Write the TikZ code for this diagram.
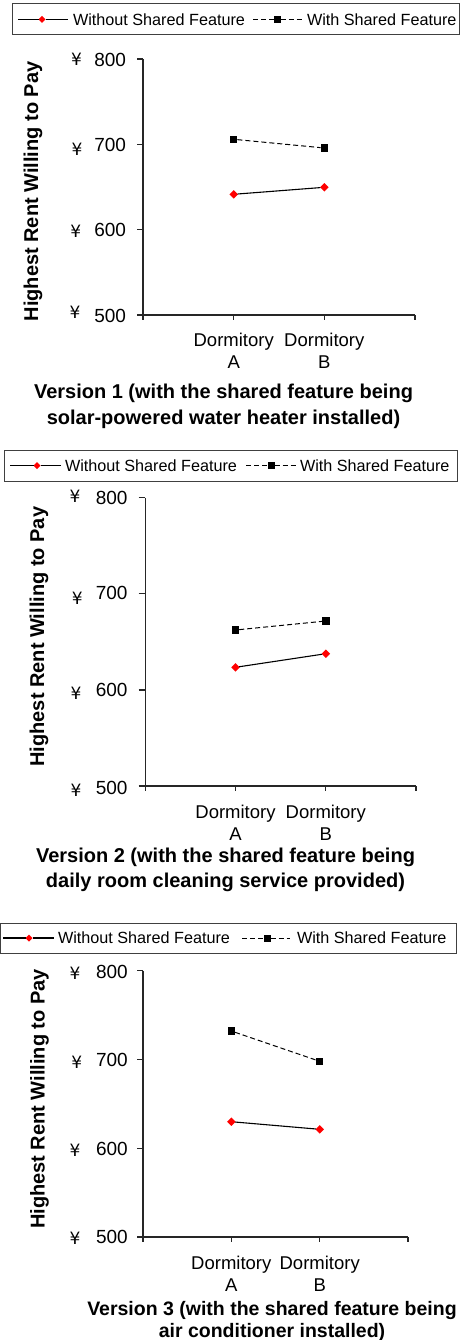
\documentclass[tikz,border=0pt]{standalone}
\usepackage{fontspec}
\setmainfont{Liberation Sans}
\newfontfamily\yenfont{DejaVu Sans}
\usetikzlibrary{shapes.geometric}

\tikzset{
  every node/.style={inner sep=0pt, outer sep=0pt},
  legtext/.style={anchor=west, font=\fontsize{16.2}{19}\selectfont},
  ticklabel/.style={anchor=east, font=\fontsize{19}{22}\selectfont},
  yen/.style={font=\yenfont\fontsize{17}{20}\selectfont},
  catlabel/.style={align=center, font=\fontsize{18.5}{22}\selectfont},
  axistitle/.style={rotate=90, font=\bfseries\fontsize{20}{24}\selectfont},
  charttitle/.style={align=center, font=\bfseries\fontsize{20}{25.3}\selectfont},
  axisline/.style={draw=black!85, line width=1.1pt},
  legendbox/.style={draw=black!75, line width=1pt},
  nofeat/.style={diamond, fill=red, minimum size=8.5pt},
  withfeat/.style={rectangle, fill=black, minimum size=7.5pt},
  legnofeat/.style={nofeat, minimum size=7pt},
  legwithfeat/.style={withfeat, minimum size=7pt},
  noline/.style={black, line width=1.1pt},
  withline/.style={black, line width=1pt, dash pattern=on 5pt off 3pt},
}

\begin{document}
\begin{tikzpicture}[x=1pt,y=-1pt]
\useasboundingbox (0,0) rectangle (460,1340);

% ---------------- Version 1 ----------------
\draw[legendbox] (12,4) rectangle (459,35);
\coordinate (l1a) at (18,19.5);
\coordinate (l1b) at (68,19.5);
\node[legnofeat] (l1n) at (42,19.5) {};
\draw[noline] (l1a) -- (l1n) -- (l1b);
\node[legtext] (l1nt) at (73,19.5) {Without Shared Feature};
\coordinate (l1c) at (253,19.5);
\coordinate (l1d) at (302,19.5);
\node[legwithfeat] (l1w) at (277,19.5) {};
\draw[withline] (l1c) -- (l1w) -- (l1d);
\node[legtext] (l1wt) at (307,19.5) {With Shared Feature};

\draw[axisline] (143,59) -- (143,315) -- (415,315);
\foreach \y in {59,144.3,229.7,315} \draw[axisline] (137,\y) -- (143,\y);
\foreach \x in {143,233.7,324.3,415} \draw[axisline] (\x,315) -- (\x,320);
\node[ticklabel] (t1a) at (126,59.5) {800};
\node[ticklabel] (t1b) at (126,145) {700};
\node[ticklabel] (t1c) at (126,230.2) {600};
\node[ticklabel] (t1d) at (126,315.5) {500};
\node[yen] (y1a) at (76.5,59.5) {¥};
\node[yen] (y1b) at (77,149.5) {¥};
\node[yen] (y1c) at (75.7,231.5) {¥};
\node[yen] (y1d) at (75,312.7) {¥};
\node[axistitle] (at1) at (33,191.5) {Highest Rent Willing to Pay};
\node[catlabel] (c1a) at (233.7,351) {Dormitory\\A};
\node[catlabel] (c1b) at (324.3,351) {Dormitory\\B};

\node[withfeat] (w1a) at (233.7,139.3) {};
\node[withfeat] (w1b) at (324.3,148) {};
\node[nofeat] (n1a) at (233.7,194.3) {};
\node[nofeat] (n1b) at (324.3,187.3) {};
\draw[withline] (w1a) -- (w1b);
\draw[noline] (n1a) -- (n1b);

\node[charttitle] (title1) at (223.5,406.3) {Version 1 (with the shared feature being\\solar-powered water heater installed)};

% ---------------- Version 2 ----------------
\draw[legendbox] (4,450.7) rectangle (457,481);
\coordinate (l2a) at (10,465.5);
\coordinate (l2b) at (61,465.5);
\node[legnofeat] (l2n) at (37,465.5) {};
\draw[noline] (l2a) -- (l2n) -- (l2b);
\node[legtext] (l2nt) at (65,465.5) {Without Shared Feature};
\coordinate (l2c) at (246,465.5);
\coordinate (l2d) at (296,465.5);
\node[legwithfeat] (l2w) at (271,465.5) {};
\draw[withline] (l2c) -- (l2w) -- (l2d);
\node[legtext] (l2wt) at (300,465.5) {With Shared Feature};

\draw[axisline] (145.3,497.5) -- (145.3,786) -- (416,786);
\foreach \y in {497.5,593.5,690,786} \draw[axisline] (138.5,\y) -- (145.3,\y);
\foreach \x in {145.3,235.5,325.8,416} \draw[axisline] (\x,786) -- (\x,791);
\node[ticklabel] (t2a) at (127.5,498) {800};
\node[ticklabel] (t2b) at (127.5,593) {700};
\node[ticklabel] (t2c) at (127.5,690) {600};
\node[ticklabel] (t2d) at (127.5,788) {500};
\node[yen] (y2a) at (75,496.7) {¥};
\node[yen] (y2b) at (77.3,598) {¥};
\node[yen] (y2c) at (76,693.3) {¥};
\node[yen] (y2d) at (76,790.7) {¥};
\node[axistitle] (at2) at (39,636.7) {Highest Rent Willing to Pay};
\node[catlabel] (c2a) at (235.5,822.9) {Dormitory\\A};
\node[catlabel] (c2b) at (325.8,822.9) {Dormitory\\B};

\node[withfeat] (w2a) at (235.5,630) {};
\node[withfeat] (w2b) at (325.8,621) {};
\node[nofeat] (n2a) at (235.5,667.3) {};
\node[nofeat] (n2b) at (325.8,653.7) {};
\draw[withline] (w2a) -- (w2b);
\draw[noline] (n2a) -- (n2b);

\node[charttitle] (title2) at (225.5,869.8) {Version 2 (with the shared feature being\\daily room cleaning service provided)};

% ---------------- Version 3 ----------------
\draw[legendbox] (0.5,923.3) rectangle (456.7,953.3);
\coordinate (l3a) at (3,938);
\coordinate (l3b) at (54,938);
\node[legnofeat] (l3n) at (29,938) {};
\draw[noline] (l3a) -- (l3n) -- (l3b);
\node[legtext] (l3nt) at (58,938) {Without Shared Feature};
\coordinate (l3c) at (242,938);
\coordinate (l3d) at (290,938);
\node[legwithfeat] (l3w) at (267,938) {};
\draw[withline] (l3c) -- (l3w) -- (l3d);
\node[legtext] (l3wt) at (297,938) {With Shared Feature};

\draw[axisline] (143,970.7) -- (143,1237) -- (408,1237);
\foreach \y in {970.7,1059.5,1148.3,1237} \draw[axisline] (137,\y) -- (143,\y);
\foreach \x in {143,231.3,319.7,408} \draw[axisline] (\x,1237) -- (\x,1242);
\node[ticklabel] (t3a) at (127.7,971.7) {800};
\node[ticklabel] (t3b) at (127.7,1060) {700};
\node[ticklabel] (t3c) at (127.7,1149.3) {600};
\node[ticklabel] (t3d) at (127.7,1236.7) {500};
\node[yen] (y3a) at (75,973) {¥};
\node[yen] (y3b) at (76.7,1062.7) {¥};
\node[yen] (y3c) at (75,1150) {¥};
\node[yen] (y3d) at (75,1238.3) {¥};
\node[axistitle] (at3) at (39.5,1099) {Highest Rent Willing to Pay};
\node[catlabel] (c3a) at (231.3,1273.3) {Dormitory\\A};
\node[catlabel] (c3b) at (319.7,1273.3) {Dormitory\\B};

\node[withfeat] (w3a) at (231.3,1031) {};
\node[withfeat] (w3b) at (319.7,1061.3) {};
\node[nofeat] (n3a) at (231.3,1121.7) {};
\node[nofeat] (n3b) at (319.7,1129.3) {};
\draw[withline] (w3a) -- (w3b);
\draw[noline] (n3a) -- (n3b);

\node[charttitle, font=\bfseries\fontsize{19.5}{22}\selectfont] (title3) at (272,1321) {Version 3 (with the shared feature being\\air conditioner installed)};
\end{tikzpicture}
\end{document}
